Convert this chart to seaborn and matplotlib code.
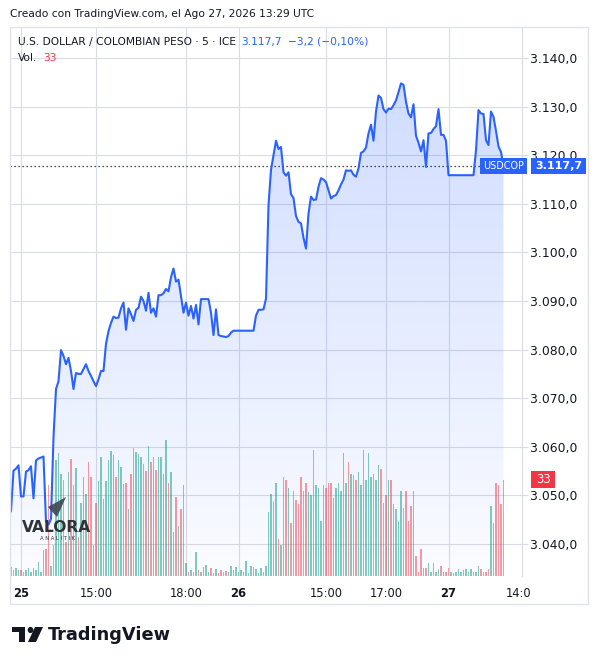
import matplotlib
matplotlib.use("Agg")
import matplotlib.pyplot as plt
import matplotlib.transforms as mtransforms
from matplotlib.patches import Rectangle, Polygon, Circle
import numpy as np
import seaborn as sns

# precio de cierre por vela de 5 minutos (USDCOP)
precio = [
    3046.7, 3055.1, 3055.5, 3056.2, 3049.8, 3049.8, 3054.9, 3055.2, 3056.0, 3049.4,
    3057.2, 3057.6, 3057.8, 3058.0, 3044.6, 3044.0, 3045.2, 3062.0, 3071.9, 3073.5,
    3079.9, 3078.7, 3077.0, 3078.3, 3075.6, 3071.9, 3075.2, 3075.0, 3075.0, 3076.0,
    3077.0, 3075.6, 3074.6, 3073.5, 3072.5, 3073.9, 3075.6, 3075.6, 3081.2, 3083.8,
    3085.5, 3086.8, 3086.5, 3086.6, 3088.5, 3089.7, 3084.1, 3088.5, 3087.3, 3085.9,
    3088.2, 3088.6, 3090.9, 3090.0, 3088.0, 3091.7, 3087.6, 3088.5, 3086.8, 3091.2,
    3091.2, 3091.6, 3092.5, 3092.0, 3094.9, 3096.7, 3094.0, 3094.4, 3091.0, 3087.6,
    3089.7, 3087.0, 3089.0, 3086.4, 3089.2, 3085.2, 3090.4, 3090.4, 3090.4, 3090.4,
    3087.6, 3083.0, 3088.3, 3083.0, 3082.8, 3082.7, 3082.6, 3082.8, 3083.5, 3083.9,
    3083.9, 3083.9, 3083.9, 3083.9, 3083.9, 3083.9, 3083.9, 3083.9, 3087.0, 3088.2,
    3088.2, 3088.3, 3090.5, 3109.7, 3117.0, 3120.0, 3123.0, 3121.3, 3121.7, 3116.5,
    3115.8, 3116.5, 3112.0, 3111.2, 3107.5, 3106.3, 3106.0, 3103.0, 3100.8, 3108.0,
    3111.5, 3110.8, 3110.9, 3113.5, 3115.3, 3115.0, 3114.5, 3112.8, 3111.1, 3111.6,
    3111.8, 3112.8, 3114.0, 3115.0, 3116.9, 3116.8, 3116.9, 3116.0, 3115.6, 3117.3,
    3120.5, 3120.8, 3121.6, 3124.5, 3126.3, 3123.0, 3129.0, 3132.3, 3131.8, 3129.5,
    3128.8, 3129.6, 3129.5, 3130.3, 3131.3, 3133.0, 3134.8, 3134.5, 3131.0, 3128.6,
    3127.8, 3130.5, 3124.0, 3122.6, 3120.8, 3123.1, 3117.6, 3124.5, 3124.6, 3125.4,
    3126.0, 3129.5, 3124.2, 3124.2, 3123.0, 3115.9, 3115.9, 3115.9, 3115.9, 3115.9,
    3115.9, 3115.9, 3115.9, 3115.9, 3115.9, 3115.9, 3121.0, 3129.3, 3128.6, 3128.5,
    3123.1, 3122.1, 3129.0, 3127.9, 3125.0, 3121.8, 3120.7, 3117.7,
]

volumen = [
    3.2, 2.2, 2.6, 2.0, 2.2, 1.5, 2.0, 2.6, 1.5, 2.6,
    2.0, 4.9, 1.5, 9.0, 9.4, 31.0, 3.4, 10.5, 39.7, 42.0,
    35.0, 33.0, 11.7, 35.5, 40.0, 31.0, 37.0, 13.4, 25.0, 34.0,
    28.0, 39.0, 34.0, 10.5, 25.0, 32.4, 40.8, 26.4, 32.7, 39.7,
    42.9, 41.5, 33.8, 39.7, 37.4, 31.5, 32.0, 23.0, 35.0, 43.8,
    42.3, 41.7, 40.6, 38.5, 36.0, 44.6, 38.9, 40.8, 36.3, 40.8,
    40.8, 35.0, 46.5, 32.0, 35.5, 15.0, 27.2, 17.0, 23.0, 31.0,
    4.5, 1.5, 2.0, 1.5, 8.3, 2.0, 1.5, 3.0, 3.7, 1.5,
    2.6, 1.1, 2.3, 1.0, 2.0, 1.5, 1.8, 1.5, 3.4, 2.0,
    3.0, 1.5, 2.2, 1.5, 5.2, 1.1, 3.4, 3.0, 2.3, 1.1,
    2.6, 1.5, 3.4, 22.0, 28.0, 25.6, 32.0, 12.5, 10.5, 34.0,
    33.0, 30.0, 18.0, 29.0, 26.0, 24.7, 34.0, 29.0, 32.0, 28.7,
    27.6, 43.0, 31.0, 30.0, 19.0, 31.0, 30.0, 31.7, 32.0, 26.7,
    30.0, 31.7, 29.0, 42.0, 31.7, 39.0, 35.0, 34.7, 33.0, 35.5,
    31.0, 43.0, 33.0, 42.0, 34.0, 35.0, 33.0, 38.0, 36.7, 25.0,
    27.6, 33.0, 33.0, 24.7, 23.0, 19.0, 29.0, 23.4, 29.0, 19.0,
    24.0, 29.0, 7.0, 1.5, 9.4, 2.6, 2.6, 4.5, 1.5, 4.5,
    1.5, 2.3, 3.4, 1.5, 1.5, 2.6, 1.5, 1.1, 1.5, 2.3,
    1.5, 2.0, 2.3, 1.5, 2.3, 1.5, 1.5, 3.4, 2.3, 1.5,
    1.5, 2.3, 24.0, 18.0, 32.0, 31.0, 24.7, 33.0,
]

tick_pos = [4, 34, 70, 91, 126, 150, 175, 204.3]
tick_txt = ["25", "15:00", "18:00", "26", "15:00", "17:00", "27", "14:00"]
dias = ["25", "26", "27"]
niveles = [3040, 3050, 3060, 3070, 3080, 3090, 3100, 3110, 3120, 3130, 3140]
ultimo = 3117.7
ultimo_vol = 33
cambio = "\u22123,2 (\u22120,10%)"
simbolo = "USDCOP"

AZUL = "#2962ff"
ROJO = "#f23645"
VERDE = "#089981"
TXT = "#131722"
GRID = "#d9dce3"

sns.set_theme(style="white")
plt.rcParams["font.family"] = ["DejaVu Sans"]

W, H = 598, 664
def fx(px):
    return px / W
def fy(py):
    return 1 - py / H

def fmt(v, dec=1):
    s = f"{v:,.{dec}f}"
    return s.replace(",", "X").replace(".", ",").replace("X", ".")

fig = plt.figure(figsize=(W / 100, H / 100), dpi=100)
fig.patch.set_facecolor("white")

# marco del panel
fig.patches.append(Rectangle((fx(10), fy(604)), fx(588) - fx(10), fy(27) - fy(604),
                             transform=fig.transFigure, fill=False, ec="#e0e3eb", lw=1))

ax = fig.add_axes([fx(10), fy(576), fx(522) - fx(10), fy(27) - fy(576)])
ax.set_facecolor("none")

x = np.arange(len(precio))
xmin, xmax = -0.4, 204.4
ymin, ymax = 3033.42, 3146.4

# relleno degradado bajo la linea
poly = ax.fill_between(x, precio, ymin, color="none", lw=0)
grad = np.zeros((256, 1, 4))
grad[:, 0, 0] = 41 / 255
grad[:, 0, 1] = 98 / 255
grad[:, 0, 2] = 1.0
grad[:, 0, 3] = np.linspace(0.22, 0.02, 256)
im = ax.imshow(grad, extent=[x[0], x[-1], ymin, max(precio)], aspect="auto",
               origin="upper", zorder=1)
im.set_clip_path(poly.get_paths()[0], transform=ax.transData)

# volumen en escala propia (parte baja del panel)
vmax = 188
trans_vol = mtransforms.blended_transform_factory(
    ax.transData, mtransforms.Affine2D().scale(1, 1 / vmax) + ax.transAxes)
dif = np.diff(precio, prepend=precio[0])
col_vol = [VERDE if d >= 0 else ROJO for d in dif]
ax.bar(x, volumen, width=0.5, color=col_vol, alpha=0.5, lw=0,
       transform=trans_vol, zorder=2)

sns.lineplot(x=x, y=precio, ax=ax, color=AZUL, linewidth=1.5, zorder=4)

ax.axhline(ultimo, color=TXT, lw=0.9, ls=(0, (1, 2.2)), zorder=3)

ax.set_xlim(xmin, xmax)
ax.set_ylim(ymin, ymax)

ax.set_xticks(tick_pos, tick_txt)
ax.set_yticks(niveles, [fmt(v) for v in niveles])
ax.yaxis.tick_right()
ax.grid(True, color=GRID, lw=0.8)
ax.set_axisbelow(True)
ax.tick_params(axis="x", length=0, pad=8, labelsize=8.3, colors=TXT)
ax.tick_params(axis="y", length=4.5, width=0.8, color=GRID, pad=1.5,
               labelsize=8.9, labelcolor=TXT)
for lab in ax.get_xticklabels():
    if lab.get_text() in dias:
        lab.set_fontweight("bold")
clip = mtransforms.TransformedBbox(mtransforms.Bbox([[0, 0], [fx(530), 1]]), fig.transFigure)
for lab in ax.get_xticklabels():
    lab.set_clip_box(clip)
    lab.set_clip_on(True)
for s in ["left", "top", "bottom"]:
    ax.spines[s].set_visible(False)
ax.spines["right"].set_color(GRID)
ax.spines["right"].set_linewidth(0.8)
ax.set_xlabel("")
ax.set_ylabel("")

# cabecera
fig.text(fx(10), fy(14), "Creado con TradingView.com, el Ago 27, 2026 13:29 UTC",
         fontsize=7.7, color=TXT, va="center")
t1 = fig.text(fx(18), fy(42), "U.S. DOLLAR / COLOMBIAN PESO \u00b7 5 \u00b7 ICE",
              fontsize=7.7, color=TXT, va="center")
t2 = ax.annotate(fmt(ultimo), xy=(1, 0.5), xycoords=t1, xytext=(4, 0),
                 textcoords="offset points", fontsize=7.7, color=AZUL, va="center")
ax.annotate(cambio, xy=(1, 0.5), xycoords=t2, xytext=(4, 0),
            textcoords="offset points", fontsize=7.7, color=AZUL, va="center")
t3 = fig.text(fx(18), fy(58), "Vol.", fontsize=7.7, color=TXT, va="center")
ax.annotate(str(ultimo_vol), xy=(1, 0.5), xycoords=t3, xytext=(4, 0),
            textcoords="offset points", fontsize=7.7, color=ROJO, va="center")

# etiquetas del ultimo precio y volumen
inv = fig.transFigure.inverted()
yp = inv.transform(ax.transData.transform((0, ultimo)))[1]
yv = inv.transform(trans_vol.transform((0, ultimo_vol)))[1]
hb = 16 / H
fig.patches.append(Rectangle((fx(531), yp - hb / 2), fx(586) - fx(531), hb,
                             transform=fig.transFigure, fc=AZUL, ec="none"))
fig.text(fx(558.5), yp, fmt(ultimo), color="white", fontsize=8, fontweight="bold",
         ha="center", va="center")
fig.patches.append(Rectangle((fx(480), yp - hb / 2), fx(527) - fx(480), hb,
                             transform=fig.transFigure, fc=AZUL, ec="none", zorder=5))
fig.text(fx(503.5), yp, simbolo, color="white", fontsize=6.9,
         ha="center", va="center", zorder=6)
fig.patches.append(Rectangle((fx(531), yv - 8.5 / H), fx(555) - fx(531), 17 / H,
                             transform=fig.transFigure, fc=ROJO, ec="none"))
fig.text(fx(543), yv, str(ultimo_vol), color="white", fontsize=8.3,
         ha="center", va="center")

# marca de agua VALORA ANALITIK
fig.patches.append(Polygon([(fx(48), fy(507)), (fx(66), fy(497)), (fx(57), fy(517))],
                           closed=True, transform=fig.transFigure, fc="#3d4650",
                           ec="none", alpha=0.9, zorder=5))
fig.text(fx(57), fy(527), "VALORA", fontsize=11.2, fontweight="bold", color="#2f3439",
         ha="center", va="center", zorder=6)
fig.text(fx(58), fy(538), "A N A L I T I K", fontsize=3.8, color="#2f3439",
         ha="center", va="center", zorder=6)

# logotipo TradingView
fig.patches.append(Rectangle((fx(12), fy(632)), fx(25) - fx(12), 5 / H,
                             transform=fig.transFigure, fc="#131722", ec="none"))
fig.patches.append(Rectangle((fx(19), fy(642)), fx(25) - fx(19), 15 / H,
                             transform=fig.transFigure, fc="#131722", ec="none"))
fig.patches.append(Circle((fx(30.5), fy(630)), 2.8 / W, transform=fig.transFigure,
                          fc="#131722", ec="none"))
fig.patches.append(Polygon([(fx(35), fy(627)), (fx(43), fy(627)), (fx(36), fy(642)),
                            (fx(28), fy(642))], closed=True, transform=fig.transFigure,
                           fc="#131722", ec="none"))
fig.text(fx(48), fy(634.5), "TradingView", fontsize=12.8, fontweight="bold",
         color="#131722", va="center")

fig.savefig("out.png", dpi=100)
